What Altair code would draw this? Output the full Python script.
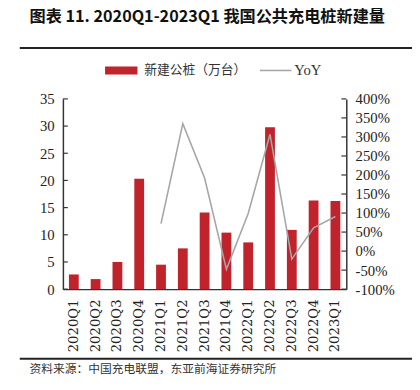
import altair as alt
import pandas as pd

quarters = ["2020Q1", "2020Q2", "2020Q3", "2020Q4", "2021Q1", "2021Q2", "2021Q3",
            "2021Q4", "2022Q1", "2022Q2", "2022Q3", "2022Q4", "2023Q1"]
new_piles = [2.7, 1.85, 5.0, 20.3, 4.5, 7.5, 14.1, 10.4, 8.6, 29.8, 10.9, 16.3, 16.2]
yoy = [None, None, None, None, 72, 335, 192, -48, 99, 307, -21, 61, 91]
left_ticks = [0, 5, 10, 15, 20, 25, 30, 35]
right_ticks = [-100, -50, 0, 50, 100, 150, 200, 250, 300, 350, 400]

title_text = "图表 11. 2020Q1-2023Q1 我国公共充电桩新建量"
source_text = "资料来源：中国充电联盟，东亚前海证券研究所"
legend_bar = "新建公桩（万台）"
legend_line = "YoY"

RED = "#C0232C"
GRAY = "#A6A6A6"
AX = "#333333"
SERIF = "Liberation Serif"
CJK = "Noto Sans CJK SC"

W, H = 289, 194

df = pd.DataFrame({"quarter": quarters, "value": new_piles, "yoy": yoy})

x_enc = alt.X("quarter:N", sort=quarters,
              scale=alt.Scale(paddingInner=0.55, paddingOuter=0.275),
              axis=alt.Axis(title=None, labelAngle=270, labelFont="DejaVu Serif", labelFontSize=13.5,
                            labelColor="#222", ticks=False, domainColor=AX, domainWidth=1.5,
                            labelPadding=10))

y_left = alt.Y("value:Q", scale=alt.Scale(domain=[0, 35]),
               axis=alt.Axis(values=left_ticks, title=None, ticks=False, labelPadding=9,
                             labelFont=SERIF, labelFontSize=15, labelColor="#222",
                             domainColor=AX, domainWidth=1.5, grid=False))

y_right = alt.Y("yoy:Q", scale=alt.Scale(domain=[-100, 400]),
                axis=alt.Axis(values=right_ticks, title=None, ticks=False, labelPadding=9,
                              orient="right", labelExpr="datum.value + '%'",
                              labelFont=SERIF, labelFontSize=15, labelColor="#222",
                              domainColor=AX, domainWidth=1.5, grid=False))

base = alt.Chart(df)
bars = base.mark_bar(color=RED).encode(x=x_enc, y=y_left)
lticks = alt.Chart(pd.DataFrame({"value": left_ticks})).mark_rule(color=AX, strokeWidth=1.2).encode(
    y=y_left, x=alt.value(0), x2=alt.value(5))

line = base.mark_line(color=GRAY, strokeWidth=1.6).encode(x=x_enc, y=y_right)
rticks = alt.Chart(pd.DataFrame({"yoy": right_ticks})).mark_rule(color=AX, strokeWidth=1.2).encode(
    y=y_right, x=alt.value(W - 5), x2=alt.value(W))

left = alt.layer(bars, lticks)
right = alt.layer(line, rticks)
main = alt.layer(left, right).resolve_scale(y="independent")

one = pd.DataFrame({"a": [0]})
ann_base = alt.Chart(one)

title = ann_base.mark_text(align="left", baseline="middle", font=CJK, fontSize=16.5,
                           fontWeight="bold", color="#111", text=title_text).encode(
    x=alt.value(-34), y=alt.value(-83))
sep_top = ann_base.mark_rule(color="#222", strokeWidth=2).encode(
    x=alt.value(-44), x2=alt.value(356), y=alt.value(-52))
sep_bot = ann_base.mark_rule(color="#222", strokeWidth=2).encode(
    x=alt.value(-44), x2=alt.value(356), y=alt.value(265))
source = ann_base.mark_text(align="left", baseline="middle", font=CJK, fontSize=12,
                            color="#333", text=source_text).encode(
    x=alt.value(-34), y=alt.value(276))
leg_rect = ann_base.mark_rect(color=RED).encode(
    x=alt.value(43), x2=alt.value(76), y=alt.value(-33), y2=alt.value(-25))
leg_t1 = ann_base.mark_text(align="left", baseline="middle", font=CJK, fontSize=13,
                            color="#333", text=legend_bar).encode(
    x=alt.value(83), y=alt.value(-29))
leg_line = ann_base.mark_rule(color=GRAY, strokeWidth=1.6).encode(
    x=alt.value(201), x2=alt.value(233), y=alt.value(-29))
leg_t2 = ann_base.mark_text(align="left", baseline="middle", font=SERIF, fontSize=15,
                            color="#333", text=legend_line).encode(
    x=alt.value(236), y=alt.value(-29))

chart = alt.layer(main, title, sep_top, sep_bot, source, leg_rect, leg_t1, leg_line, leg_t2).properties(
    width=W, height=H,
    autosize=alt.AutoSizeParams(type="none"),
    padding={"left": 56, "top": 89, "right": 67, "bottom": 91},
).configure_view(stroke=None)

chart.save("out.html", embed_options={"renderer": "svg", "actions": False})
